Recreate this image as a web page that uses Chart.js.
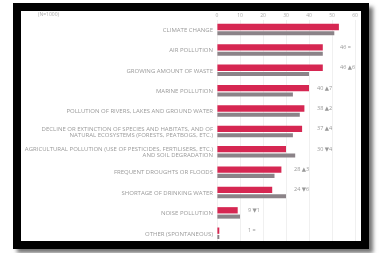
<!DOCTYPE html>
<html>
<head>
<meta charset="utf-8">
<script src="https://cdn.jsdelivr.net/npm/chart.js@4"></script>
<style>
  html, body { margin:0; padding:0; background:#ffffff; }
  #wrap { position:relative; width:379px; height:253px; overflow:hidden; filter: blur(0.6px); }
  #chartBox { position:absolute; left:0; top:0; width:379px; height:253px; }
  #frame { position:absolute; left:13px; top:3px; width:340px; height:230px; border:8px solid #000;
           box-shadow: 4px 4px 4px rgba(0,0,0,0.55); pointer-events:none; }
</style>
</head>
<body>
<div id="wrap">
  <div id="chartBox"><canvas id="c"></canvas></div>
  <div id="frame"></div>
</div>
<script>
const categories = [
  "CLIMATE CHANGE",
  "AIR POLLUTION",
  "GROWING AMOUNT OF WASTE",
  "MARINE POLLUTION",
  "POLLUTION OF RIVERS, LAKES AND GROUND WATER",
  ["DECLINE OR EXTINCTION OF SPECIES AND HABITATS, AND OF", "NATURAL ECOSYSTEMS (FORESTS, PEATBOGS, ETC.)"],
  ["AGRICULTURAL POLLUTION (USE OF PESTICIDES, FERTILISERS, ETC.)", "AND SOIL DEGRADATION"],
  "FREQUENT DROUGHTS OR FLOODS",
  "SHORTAGE OF DRINKING WATER",
  "NOISE POLLUTION",
  "OTHER (SPONTANEOUS)"
];
const currentValues  = [53, 46, 46, 40, 38, 37, 30, 28, 24, 9, 1];
const previousValues = [51, 46, 40, 33, 36, 33, 34, 25, 30, 10, 1];
const axisMin = 0, axisMax = 60, axisStep = 10;
const sampleNote = "(N=1000)";

const labelFont = { family: "'Open Sans', 'DejaVu Sans', sans-serif", size: 6, lineHeight: 1.0 };
const tickFont = { family: "'Open Sans', 'DejaVu Sans', sans-serif", size: 5 };

const annotate = {
  id: 'annotate',
  afterDatasetsDraw(chart) {
    const ctx = chart.ctx;
    const xs = chart.scales.x;
    const meta = chart.getDatasetMeta(0);
    ctx.save();
    ctx.font = "5.5px 'Open Sans', 'DejaVu Sans', sans-serif";
    ctx.fillStyle = '#999';
    ctx.textBaseline = 'middle';
    ctx.textAlign = 'left';
    currentValues.forEach((v, i) => {
      const m = Math.max(v, previousValues[i]);
      const pos = Math.ceil(m / axisStep) * axisStep + 3.5;
      if (pos > axisMax) return;
      const d = v - previousValues[i];
      const sym = d > 0 ? '\u25B2' + d : d < 0 ? '\u25BC' + (-d) : '=';
      ctx.fillText(v + ' ' + sym, xs.getPixelForValue(pos), meta.data[i].y);
    });
    ctx.font = "5px 'Open Sans', 'DejaVu Sans', sans-serif";
    ctx.fillStyle = '#aaa';
    ctx.fillText(sampleNote, 38, 15);
    ctx.restore();
  }
};

new Chart(document.getElementById('c'), {
  type: 'bar',
  data: {
    labels: categories,
    datasets: [
      { label: 'current', data: currentValues, backgroundColor: '#d62752', barPercentage: 1.0, categoryPercentage: 0.62 },
      { label: 'previous', data: previousValues, backgroundColor: '#8b8388', barPercentage: 0.64, categoryPercentage: 0.62 }
    ]
  },
  options: {
    indexAxis: 'y',
    responsive: true,
    maintainAspectRatio: false,
    animation: false,
    layout: { padding: { left: 0, right: 24, top: 0, bottom: 9 } },
    plugins: { legend: { display: false }, tooltip: { enabled: false } },
    scales: {
      x: {
        position: 'top',
        min: axisMin, max: axisMax,
        ticks: { stepSize: axisStep, font: tickFont, color: '#aaa', padding: 1 },
        grid: { color: '#ececec', drawTicks: false, lineWidth: 0.8 },
        border: { display: false },
        afterFit(s) { s.height = 20; }
      },
      y: {
        ticks: { font: labelFont, color: '#9a9a9a', padding: 4, autoSkip: false },
        grid: { display: false, drawTicks: false },
        border: { display: false },
        afterFit(s) { s.width = 217; }
      }
    }
  },
  plugins: [annotate]
});
</script>
</body>
</html>
